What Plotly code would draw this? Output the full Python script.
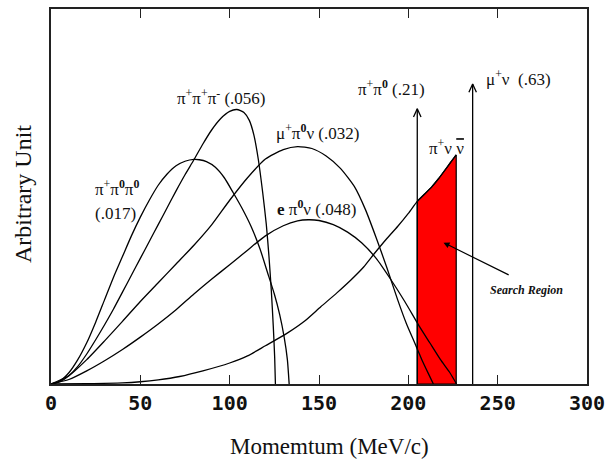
import plotly.graph_objects as go

# ---------------- data ----------------
# K+ -> pi+ pi0 pi0  (.017)
x_ppp00 = [0, 5, 10, 15, 20, 25, 30, 35, 40, 45, 50, 55, 60, 65, 70, 75, 80, 83, 87, 92, 97, 102, 107, 112, 117, 121, 125, 128, 130.5, 132.3, 133.3]
y_ppp00 = [0, 0.008, 0.03, 0.065, 0.11, 0.165, 0.225, 0.285, 0.34, 0.395, 0.445, 0.49, 0.53, 0.56, 0.582, 0.594, 0.599, 0.598, 0.593, 0.578, 0.55, 0.51, 0.468, 0.42, 0.36, 0.30, 0.24, 0.185, 0.125, 0.065, 0]

# K+ -> pi+ pi+ pi-  (.056)
x_pppm = [0, 5, 10, 15, 20, 25, 30, 35, 40, 45, 50, 55, 60, 65, 70, 75, 80, 85, 90, 95, 100, 104, 108, 111, 113.5, 116, 118.5, 120.5, 122, 123.3, 124.4, 125.2, 125.6]
y_pppm = [0, 0.006, 0.022, 0.047, 0.08, 0.118, 0.158, 0.2, 0.245, 0.29, 0.335, 0.38, 0.425, 0.47, 0.515, 0.558, 0.598, 0.64, 0.678, 0.708, 0.727, 0.732, 0.724, 0.703, 0.665, 0.6, 0.51, 0.426, 0.34, 0.25, 0.155, 0.07, 0]

# K+ -> mu+ pi0 nu  (.032)
x_mupi0nu = [0, 10, 20, 30, 40, 50, 60, 70, 80, 90, 100, 110, 120, 130, 138, 146, 154, 162, 170, 176, 182, 188, 194, 199, 204, 208, 211.5, 214]
y_mupi0nu = [0, 0.022, 0.065, 0.115, 0.167, 0.22, 0.27, 0.32, 0.37, 0.425, 0.49, 0.55, 0.60, 0.625, 0.633, 0.628, 0.608, 0.575, 0.525, 0.465, 0.39, 0.31, 0.225, 0.16, 0.105, 0.06, 0.025, 0]

# K+ -> e pi0 nu  (.048)
x_epi0nu = [0, 10, 20, 30, 40, 50, 60, 70, 80, 90, 100, 110, 120, 130, 138, 144, 150, 158, 166, 174, 182, 190, 198, 206, 212, 218, 223, 227]
y_epi0nu = [0, 0.012, 0.035, 0.062, 0.092, 0.125, 0.16, 0.198, 0.24, 0.28, 0.318, 0.357, 0.395, 0.422, 0.435, 0.438, 0.436, 0.425, 0.405, 0.376, 0.335, 0.28, 0.22, 0.155, 0.11, 0.065, 0.032, 0]

# K+ -> pi+ nu nubar
x_pinunu = [0, 20, 40, 50, 60, 72, 85, 100, 110, 120, 132, 142, 151, 160, 168, 175, 181, 188, 194, 200, 205, 209, 213, 217, 220, 223.5, 226.8]
y_pinunu = [0, 0.001, 0.003, 0.006, 0.011, 0.02, 0.035, 0.056, 0.075, 0.102, 0.135, 0.168, 0.206, 0.243, 0.278, 0.312, 0.348, 0.388, 0.42, 0.455, 0.487, 0.506, 0.525, 0.548, 0.567, 0.59, 0.611]

# two-body lines (momentum, arrow height)
x_two_body = [205, 236]
y_two_body = [0.734, 0.80]

# search region bounds
search_lo, search_hi = 205, 226.8

x_ticks = [0, 50, 100, 150, 200, 250, 300]
x_ticklabels = ["0", "50", "100", "150", "200", "250", "300"]

# ---------------- figure ----------------
LINE = dict(color="black", width=1.3)
SERIF = "Liberation Serif, Times New Roman, serif"
fig = go.Figure()

# red search region under the pi nu nubar curve
reg = [(x, y) for x, y in zip(x_pinunu, y_pinunu) if search_lo <= x <= search_hi]
fx = [reg[0][0]] + [p[0] for p in reg] + [reg[-1][0], reg[0][0]]
fy = [0] + [p[1] for p in reg] + [0, 0]
fig.add_trace(go.Scatter(x=fx, y=fy, mode="lines", fill="toself", fillcolor="#ff0000",
                         line=dict(color="black", width=1.2), hoverinfo="skip"))

for xs, ys in [(x_ppp00, y_ppp00), (x_pppm, y_pppm), (x_mupi0nu, y_mupi0nu),
               (x_epi0nu, y_epi0nu), (x_pinunu, y_pinunu)]:
    fig.add_trace(go.Scatter(x=xs, y=ys, mode="lines", line=dict(shape="spline", smoothing=0.6, **LINE),
                             hoverinfo="skip"))

# vertical arrows with open heads
head_dx, head_dy = 2.1, 0.022
for xv, yv in zip(x_two_body, y_two_body):
    fig.add_trace(go.Scatter(x=[xv, xv], y=[0, yv], mode="lines", line=LINE, hoverinfo="skip"))
    fig.add_trace(go.Scatter(x=[xv - head_dx, xv, xv + head_dx], y=[yv - head_dy, yv, yv - head_dy],
                             mode="lines", line=LINE, hoverinfo="skip"))

lab_font = dict(family=SERIF, size=17, color="#111")
labels = [
    (190.3, 0.789, "π<sup>+</sup>π<sup><b>0</b></sup> (.21)", "center"),
    (242.5, 0.815, "μ<sup>+</sup>ν  (.63)", "left"),
    (95.7, 0.765, "π<sup>+</sup>π<sup>+</sup>π<sup>-</sup> (.056)", "center"),
    (149, 0.672, "μ<sup>+</sup>π<sup><b>0</b></sup>ν (.032)", "center"),
    (148.5, 0.469, "<b>e</b> π<sup><b>0</b></sup>ν (.048)", "center"),
    (23.7, 0.522, "π<sup>+</sup>π<sup><b>0</b></sup>π<sup><b>0</b></sup>", "left"),
    (23.7, 0.456, "(.017)", "left"),
    (221.2, 0.632, "π<sup>+</sup>ν <span style=\"text-decoration:overline\">ν</span>", "center"),
]
for x, y, t, xa in labels:
    fig.add_annotation(x=x, y=y, text=t, showarrow=False, xanchor=xa, yanchor="middle", font=lab_font)

fig.add_annotation(x=266, y=0.252, text="<b><i>Search Region</i></b>", showarrow=False,
                   font=dict(family=SERIF, size=12, color="#111"))
fig.add_annotation(x=219.7, y=0.377, ax=257, ay=0.289, axref="x", ayref="y", text="",
                   showarrow=True, arrowhead=2, arrowsize=1, arrowwidth=1.2, arrowcolor="black")

# axis titles
fig.add_annotation(xref="paper", yref="paper", x=0.519, y=-0.166, text="Momemtum (MeV/c)",
                   showarrow=False, font=dict(family=SERIF, size=23, color="#111"), yanchor="middle")
fig.add_annotation(xref="paper", yref="paper", x=-0.052, y=0.507, text="Arbitrary Unit", textangle=-90,
                   showarrow=False, font=dict(family=SERIF, size=24, color="#111"), xanchor="center")

fig.update_layout(
    width=612, height=464, showlegend=False,
    margin=dict(l=51, r=25, t=7, b=80),
    paper_bgcolor="white", plot_bgcolor="white",
    xaxis=dict(range=[0, 300], tickvals=x_ticks, ticktext=x_ticklabels, ticks="inside", ticklen=9,
               tickwidth=1, tickcolor="#222", showline=True, linecolor="#222", linewidth=1.8,
               mirror="ticks", showgrid=False, zeroline=False,
               tickfont=dict(family="DejaVu Sans Mono", size=20, weight="bold", color="#111")),
    yaxis=dict(range=[0, 1], showticklabels=False, ticks="", showline=True, linecolor="#222",
               linewidth=1.8, mirror=True, showgrid=False, zeroline=False),
)

fig.write_html("out.html", config={"displayModeBar": False},
               post_script="document.body.style.margin='0';")
